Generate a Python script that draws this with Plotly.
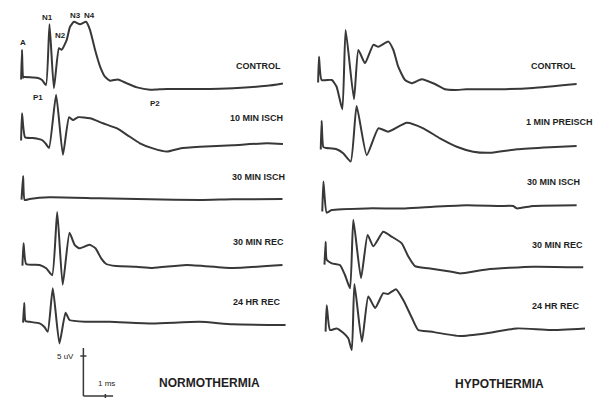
import plotly.graph_objects as go

# ---------------- data (time in ms after stimulus, amplitude in uV) ----------------
norm_control_t = [-0.04, 0.0, 0.05, 0.09, 0.45, 0.73, 0.91, 1.09, 1.25, 1.45, 1.68, 1.80, 2.03, 2.18, 2.36, 2.64,
                  2.91, 3.09, 3.32, 3.55, 3.77, 4.00, 4.36, 4.77, 5.23, 5.82, 6.18, 6.59, 8.09, 9.59, 11.14, 11.86]
norm_control_uv = [-0.3, 3.4, -0.1, 0.0, -0.06, -0.12, -0.38, -1.0, 6.6, -1.4, 3.6, 3.4, 4.6, 6.25, 6.9, 6.6,
                   6.9, 5.9, 3.4, 1.3, 0.04, -0.46, -0.3, -0.8, -1.3, -1.6, -1.55, -1.5, -1.5, -1.4, -1.1, -0.8]

norm_10isch_t = [-0.04, 0.0, 0.14, 0.5, 0.91, 1.09, 1.23, 1.55, 1.86, 2.14, 2.32, 2.55, 3.09, 3.68, 4.32, 4.77,
                 5.36, 5.95, 6.59, 7.18, 8.09, 9.59, 11.14, 11.86]
norm_10isch_uv = [-0.3, 3.1, 0.1, 0.0, -0.25, -0.75, -1.25, 5.4, -2.1, 2.6, 2.25, 2.6, 2.46, 1.84, 1.2, 0.4,
                  -0.66, -1.3, -1.7, -1.3, -1.1, -0.9, -0.66, -0.75]

norm_30isch_t = [-0.02, 0.05, 0.12, 0.34, 1.25, 3.52, 5.80, 8.07, 9.57, 11.84]
norm_30isch_uv = [-0.2, 2.75, -0.25, -0.12, 0.1, -0.04, -0.16, -0.25, -0.16, -0.12]

norm_30rec_t = [0.02, 0.07, 0.19, 0.8, 1.1, 1.37, 1.6, 1.85, 2.16, 2.39, 2.61, 3.07, 3.34, 3.6, 3.83, 4.28,
                5.19, 5.93, 7.48, 9.57, 11.84]
norm_30rec_uv = [-0.2, 2.6, 0.0, -0.12, -0.54, -1.4, 6.5, -2.6, 3.9, 2.4, 1.96, 2.4, 1.96, 0.7, 0.0, -0.25,
                 -0.34, -0.5, -0.12, -0.5, -0.12]

norm_24rec_t = [0.05, 0.1, 0.16, 0.34, 0.8, 1.02, 1.17, 1.4, 1.7, 1.98, 2.16, 2.92, 3.98, 5.93, 8.07, 9.57, 11.98]
norm_24rec_uv = [-0.2, 2.25, 0.0, -0.1, -0.3, -0.75, -1.34, 4.1, -2.8, 1.04, 0.12, -0.1, -0.1, -0.3, -0.1, -0.4, -0.5]

hypo_control_t = [-0.04, 0.0, 0.12, 0.58, 0.8, 1.06, 1.21, 1.59, 1.79, 2.09, 2.47, 2.7, 3.15, 3.38, 3.6, 3.91,
                  4.21, 4.67, 5.27, 5.73, 6.18, 6.71, 8.23, 9.73, 11.71]
hypo_control_uv = [-0.3, 2.9, 0.0, 0.0, -0.84, -3.66, 6.25, -2.4, 3.75, 2.1, 4.4, 4.16, 4.8, 3.75, 1.66, 0.0,
                   -0.4, 0.1, -0.5, -1.16, -1.25, -1.16, -1.16, -1.0, -0.5]

hypo_1pre_t = [0.08, 0.12, 0.2, 0.35, 0.8, 1.1, 1.44, 1.71, 2.17, 2.7, 3.15, 3.99, 4.74, 5.5, 6.26, 7.01,
               7.77, 8.99, 10.5, 11.71]
hypo_1pre_uv = [-0.2, 3.4, 0.1, 0.0, -0.16, -0.66, -1.7, 5.25, -0.9, 2.46, 2.04, 3.16, 2.46, 1.2, 0.16, -0.46,
                -0.6, -0.16, 0.1, 0.25]

hypo_30isch_t = [0.15, 0.2, 0.35, 0.58, 2.17, 3.91, 5.2, 6.71, 8.23, 8.83, 8.99, 9.74, 11.71]
hypo_30isch_uv = [-0.2, 3.55, -0.34, 0.0, 0.2, 0.2, 0.4, 0.6, 0.5, 0.5, 0.2, 0.5, 0.6]

hypo_30rec_t = [0.25, 0.3, 0.35, 0.58, 0.95, 1.18, 1.41, 1.56, 1.91, 2.21, 2.47, 2.92, 3.3, 3.76, 4.06, 4.36,
                4.97, 6.03, 6.41, 7.62, 9.74, 12.01]
hypo_30rec_uv = [-0.2, 2.66, 0.4, -0.04, -0.25, -1.5, -3.16, 5.4, -1.9, 3.5, 2.1, 3.9, 3.3, 2.46, 0.8, -0.38,
                 -0.66, -1.1, -1.3, -0.8, -0.46, -0.54]

hypo_24rec_t = [0.3, 0.35, 0.5, 0.8, 1.1, 1.33, 1.49, 1.61, 1.95, 2.24, 2.55, 2.92, 3.14, 3.5, 3.86, 4.23,
                4.51, 5.05, 6.41, 7.62, 8.99, 10.5, 12.09]
hypo_24rec_uv = [-0.2, 3.1, 0.0, 0.2, -0.34, -1.04, -2.5, 5.75, -1.46, 4.2, 2.75, 4.6, 4.5, 5.1, 3.6, 1.46,
                 0.0, -0.2, -0.75, -0.4, 0.2, 0.0, 0.2]

norm_labels = ["CONTROL", "10 MIN ISCH", "30 MIN ISCH", "30 MIN REC", "24 HR REC"]
hypo_labels = ["CONTROL", "1 MIN PREISCH", "30 MIN ISCH", "30 MIN REC", "24 HR REC"]
panel_titles = ["NORMOTHERMIA", "HYPOTHERMIA"]
peak_names = ["A", "N1", "N2", "N3", "N4", "P1", "P2"]
scale_uv = 5
scale_ms = 1

# ---------------- layout helpers (positions, not data) ----------------
norm_traces = [(norm_control_t, norm_control_uv), (norm_10isch_t, norm_10isch_uv),
               (norm_30isch_t, norm_30isch_uv), (norm_30rec_t, norm_30rec_uv),
               (norm_24rec_t, norm_24rec_uv)]
hypo_traces = [(hypo_control_t, hypo_control_uv), (hypo_1pre_t, hypo_1pre_uv),
               (hypo_30isch_t, hypo_30isch_uv), (hypo_30rec_t, hypo_30rec_uv),
               (hypo_24rec_t, hypo_24rec_uv)]
norm_offsets = [40.625, 33.0, 25.5, 17.25, 10.125]
hypo_offsets = [40.25, 31.75, 24.0, 17.375, 9.0]
norm_label_pos = [(11.86, 1.4), (11.95, 2.5), (12.05, 2.6), (12.0, 2.75), (11.86, 2.4)]
hypo_label_pos = [(11.77, 1.8), (12.55, 3.3), (11.95, 3.5), (12.09, 2.25), (11.95, 3.0)]
peak_pos = [(0.03, 44.96), (1.15, 48.09), (1.73, 45.875), (2.41, 48.375), (3.06, 48.375),
            (0.74, 38.09), (6.05, 37.34)]

LINE = "#383838"
TXT = "#1e1e1e"
fig = go.Figure()

for traces, offs, xa in [(norm_traces, norm_offsets, "x"), (hypo_traces, hypo_offsets, "x2")]:
    for (t, uv), off in zip(traces, offs):
        fig.add_trace(go.Scatter(
            x=t, y=[v + off for v in uv], mode="lines", xaxis=xa, yaxis="y",
            line=dict(color=LINE, width=2, shape="spline", smoothing=0.5),
            hoverinfo="skip", showlegend=False))

annotations = []
for labels, pos, offs, xr in [(norm_labels, norm_label_pos, norm_offsets, "x"),
                              (hypo_labels, hypo_label_pos, hypo_offsets, "x2")]:
    for lab, (tx, dy), off in zip(labels, pos, offs):
        annotations.append(dict(x=tx, y=off + dy, xref=xr, yref="y", text="<b>" + lab + "</b>",
                                showarrow=False, xanchor="right", yanchor="middle",
                                font=dict(family="Liberation Sans", size=9, color=TXT)))

for name, (tx, ty) in zip(peak_names, peak_pos):
    annotations.append(dict(x=tx, y=ty, xref="x", yref="y", text="<b>" + name + "</b>", showarrow=False,
                            xanchor="center", yanchor="middle",
                            font=dict(family="Liberation Sans", size=8, color=TXT)))

annotations.append(dict(x=8.52, y=2.34, xref="x", yref="y", text="<b>" + panel_titles[0] + "</b>",
                        showarrow=False, xanchor="center", yanchor="middle",
                        font=dict(family="Liberation Sans", size=12, color=TXT)))
annotations.append(dict(x=8.2, y=2.25, xref="x2", yref="y", text="<b>" + panel_titles[1] + "</b>",
                        showarrow=False, xanchor="center", yanchor="middle",
                        font=dict(family="Liberation Sans", size=12, color=TXT)))

# scale bar
sb_t0, sb_y0 = 2.79, 0.75
annotations.append(dict(x=sb_t0 - 0.35, y=sb_y0 + scale_uv, xref="x", yref="y", text="5 uV",
                        showarrow=False, xanchor="right", yanchor="middle",
                        font=dict(family="Liberation Sans", size=8, color=TXT)))
annotations.append(dict(x=sb_t0 + scale_ms * 1.03, y=sb_y0 + 1.6, xref="x", yref="y", text="1 ms",
                        showarrow=False, xanchor="center", yanchor="middle",
                        font=dict(family="Liberation Sans", size=8, color=TXT)))

shapes = [
    dict(type="line", xref="x", yref="y", x0=sb_t0, x1=sb_t0, y0=sb_y0, y1=sb_y0 + scale_uv + 1.0,
         line=dict(color=LINE, width=1.5)),
    dict(type="line", xref="x", yref="y", x0=sb_t0, x1=sb_t0 + scale_ms * 1.35, y0=sb_y0, y1=sb_y0,
         line=dict(color=LINE, width=1.5)),
    dict(type="line", xref="x", yref="y", x0=sb_t0 - 0.14, x1=sb_t0 + 0.14, y0=sb_y0 + scale_uv,
         y1=sb_y0 + scale_uv, line=dict(color=LINE, width=1.5)),
    dict(type="line", xref="x", yref="y", x0=sb_t0 + scale_ms, x1=sb_t0 + scale_ms, y0=sb_y0 - 0.25,
         y1=sb_y0 + 0.25, line=dict(color=LINE, width=1.5)),
]

ax = dict(showgrid=False, zeroline=False, showticklabels=False, showline=False, ticks="")
fig.update_layout(
    width=597, height=402, margin=dict(l=0, r=0, t=0, b=0),
    paper_bgcolor="white", plot_bgcolor="white",
    xaxis=dict(domain=[0, 0.5], range=[-1.0, 12.568], **ax),
    xaxis2=dict(domain=[0.5, 1], range=[-0.932, 12.636], anchor="y", **ax),
    yaxis=dict(domain=[0, 1], range=[0, 50.25], **ax),
    annotations=annotations, shapes=shapes,
)

fig.write_html("out.html", config={"displayModeBar": False},
               post_script="document.body.style.margin='0';")
